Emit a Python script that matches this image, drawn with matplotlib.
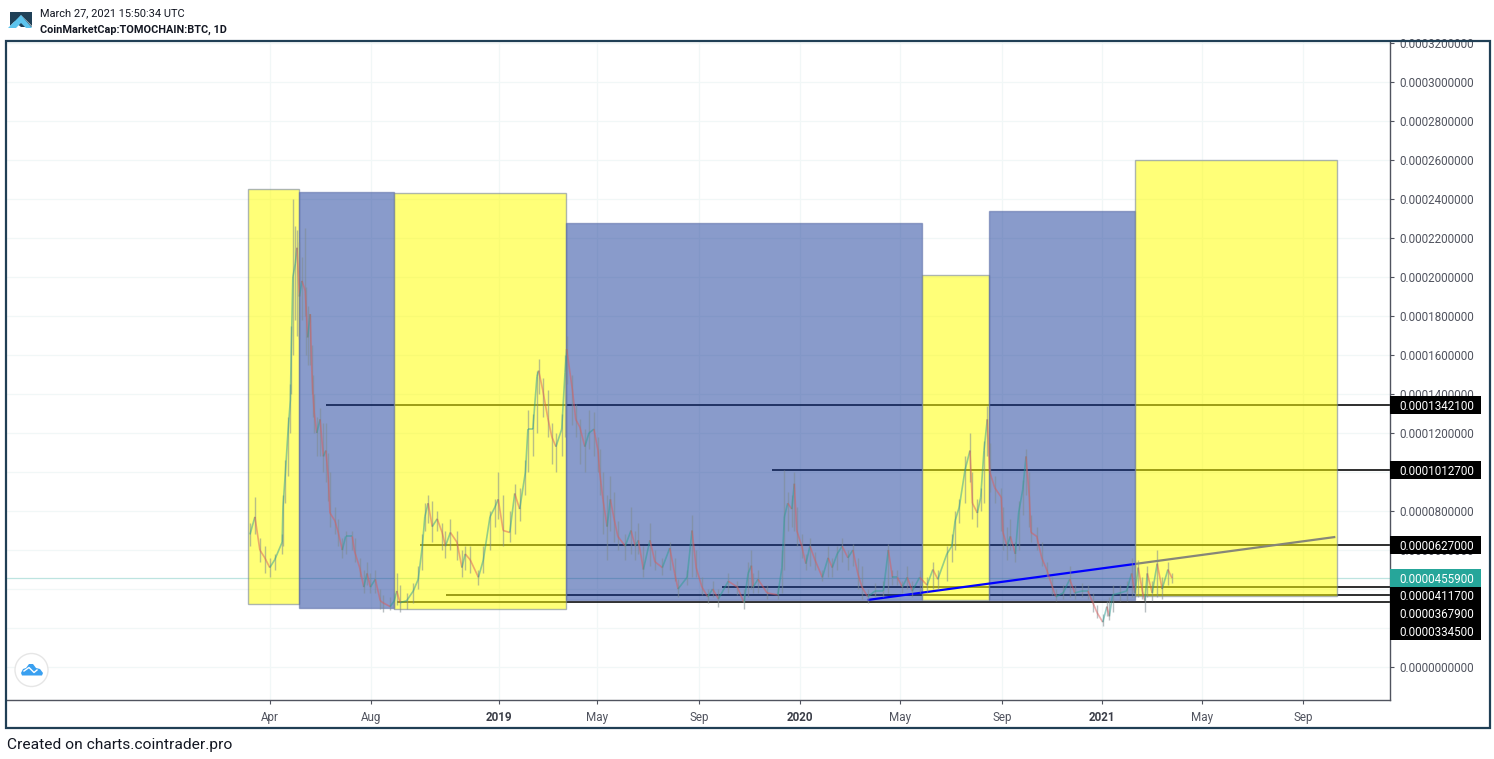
import matplotlib
matplotlib.use("Agg")
import matplotlib.pyplot as plt
from matplotlib.patches import Rectangle, Polygon, Circle
from matplotlib.collections import LineCollection

W, H = 1494, 759
FONT = "Roboto"
plt.rcParams["font.family"] = [FONT, "DejaVu Sans"]

# x values: days since 2019-01-01; prices: 1e-6 BTC
days = [-302,-296,-290,-284,-278,-272,-263,-262,-259,-256,
        -253,-252,-250,-247,-245,-242,-239,-235,-234,-232,
        -229,-227,-226,-224,-221,-217,-213,-210,-207,-205,
        -199,-195,-190,-186,-178,-175,-169,-164,-160,-156,
        -150,-144,-141,-132,-127,-124,-120,-112,-104,-98,
        -93,-90,-86,-81,-75,-69,-65,-59,-51,-45,
        -41,-35,-25,-19,-11,-5,-1,5,13,19,
        25,32,35,41,46,48,53,59,64,69,
        76,80,82,89,93,98,104,109,115,120,
        122,126,131,135,139,144,153,160,165,169,
        175,183,189,198,207,213,217,228,234,239,
        246,253,259,266,278,289,297,302,306,308,
        314,325,338,343,346,350,355,358,361,367,
        372,377,383,392,399,404,410,416,423,429,
        435,440,447,456,466,472,477,483,489,495,
        501,510,519,526,532,543,549,553,558,565,
        571,574,580,584,588,592,595,601,609,611,
        616,620,626,630,635,639,643,645,652,658,
        664,671,675,684,692,698,707,714,720,725,
        732,737,740,744,753,761,767,771,775,780,
        783,786,792,798,804,811,816]
close = [68,77,60,56,51,55,64,82,100,120,
         137,161,200,207,215,190,198,193,185,169,
         181,152,142,130,120,127,108,111,97,79,
         75,69,60,67,67,59,51,41,48,41,
         45,34,33,31,34,39,33,34,39,45,
         62,77,84,72,76,69,62,69,64,51,
         58,55,46,55,77,82,86,70,69,89,
         81,100,122,122,149,152,142,128,118,113,
         122,151,163,142,127,123,113,120,122,111,
         100,86,72,86,77,67,62,70,62,65,
         50,65,54,51,61,48,40,46,70,51,
         41,36,40,35,44,41,33,48,52,41,
         45,38,37,51,77,84,81,94,70,62,
         53,62,55,46,56,51,58,62,56,60,
         48,41,36,39,39,60,46,46,41,46,
         39,46,42,50,45,58,62,75,82,101,
         111,84,79,87,111,127,100,92,87,69,
         62,67,58,79,91,108,87,69,67,56,
         50,41,36,38,45,38,39,39,33,28,
         23,31,26,37,38,39,48,38,51,39,
         34,48,38,53,40,50,45.59]
high = [74,87,66,62,56,58,68,88,106,128,
        145,175,240,226,224,218,210,225,195,185,
        181,165,150,140,128,133,125,125,110,100,
        82,76,66,70,70,66,56,50,54,48,
        50,40,37,36,38,48,42,38,43,52,
        68,84,88,85,80,74,70,76,70,60,
        62,62,50,62,80,86,100,88,80,94,
        92,106,132,130,152,158,148,142,125,120,
        130,160,170,150,135,127,122,132,131,118,
        112,100,88,98,90,75,68,82,70,74,
        62,74,60,56,64,56,45,50,78,60,
        46,40,44,40,48,44,40,54,60,48,
        50,42,41,60,101,90,88,100,82,68,
        58,66,59,50,62,56,62,66,60,63,
        56,52,40,43,44,63,50,50,44,52,
        44,50,46,54,50,62,68,80,86,108,
        120,100,86,92,116,134,115,98,92,82,
        72,76,64,85,96,112,100,78,72,64,
        54,46,40,42,52,42,43,42,38,32,
        27,34,36,42,42,44,56,55,55,46,
        37,52,44,60,46,54,48]
low = [62,68,54,48,46,50,58,62,84,98,
       120,140,160,178,170,168,178,180,160,155,
       155,140,128,120,108,108,100,95,85,72,
       68,62,56,58,60,54,46,38,42,38,
       38,30,28,29,30,32,28,30,33,40,
       50,70,74,64,70,60,56,60,55,46,
       50,48,42,48,60,72,76,62,64,68,
       75,88,100,108,120,140,128,118,104,100,
       108,118,145,124,118,104,100,112,108,100,
       88,68,55,70,64,60,55,58,55,58,
       46,52,50,47,50,44,36,42,46,46,
       37,33,36,31,38,37,30,36,40,38,
       38,35,35,38,50,70,72,70,62,56,
       50,52,50,44,46,46,50,54,50,52,
       40,35,33,36,36,38,42,42,38,40,
       36,38,38,40,40,44,54,60,74,84,
       95,76,72,80,84,108,90,84,70,60,
       55,60,54,60,78,88,72,64,60,52,
       46,37,34,35,36,35,36,35,28,25,
       21,26,24,28,34,34,36,36,36,35,
       28,36,34,36,35,42,43]

# Shaded cycle boxes
box_start = [-304, -243, -127, 81, 513, 594, 771]
box_end = [-243, -127, 81, 513, 594, 771, 1016]
box_top = [245, 243.6, 243, 227.7, 201, 233.8, 260]
box_bottom = [32.3, 30.3, 29.7, 34.4, 34.4, 34.4, 36.4]
box_kind = ["y", "b", "y", "b", "y", "b", "y"]

# Horizontal levels
level_values = [134.21, 101.27, 62.70, 41.17, 36.79, 33.45]
level_start = [-210, 331, -96, 270, -64, -124]
level_text = ["0.0001342100", "0.0001012700", "0.0000627000",
              "0.0000411700", "0.0000367900", "0.0000334500"]
level_shift = [0, 0, 0, 8, 18, 29]

last_price = 45.59
last_text = "0.0000455900"

trend_days = [447, 1014]
trend_values = [34.4, 66.7]

y_ticks = list(range(0, 321, 20))
x_ticks = [-278, -155, 0, 119, 243, 365, 486, 610, 731, 852, 975]
x_labels = ["Apr", "Aug", "2019", "May", "Sep", "2020", "May", "Sep", "2021", "May", "Sep"]

AX = "#50535e"
fig = plt.figure(figsize=(W / 100, H / 100), dpi=100, facecolor="white")
ax = fig.add_axes([7 / W, 1 - 700 / H, (1390 - 7) / W, (700 - 42) / H])
ax.set_xlim(-596.6, 1080.3)
ax.set_ylim(-16.9, 320.5)
ax.set_facecolor("white")

for s in ("top", "left"):
    ax.spines[s].set_visible(False)
for s in ("bottom", "right"):
    ax.spines[s].set_color(AX)
    ax.spines[s].set_linewidth(1.0)

ax.yaxis.tick_right()
ax.set_yticks(y_ticks)
ax.set_yticklabels([f"{v * 1e-6:.10f}" for v in y_ticks], fontsize=8.4, color=AX)
ax.set_xticks(x_ticks)
ax.set_xticklabels(x_labels, fontsize=8.4, color=AX)
for lab in ax.get_xticklabels():
    if lab.get_text().startswith("20"):
        lab.set_fontweight("bold")
        lab.set_color("#3b3e48")
ax.tick_params(axis="y", length=3, width=0.8, color=AX, pad=3.6)
ax.tick_params(axis="x", length=3, width=0.8, color=AX, pad=5)
ax.grid(True, color="#f1f7f7", lw=0.9, zorder=0)
ax.set_axisbelow(True)

ax.axhline(last_price, color="#26a69a", alpha=0.3, lw=0.9, zorder=1)

for v, s in zip(level_values, level_start):
    ax.plot([s, 1080.3], [v, v], color="black", lw=1.15, zorder=1.5, solid_capstyle="butt")

colors = {"y": (1, 1, 0, 0.53), "b": (21 / 255, 56 / 255, 153 / 255, 0.5)}
edges = {"y": (0.42, 0.48, 0.62, 0.55), "b": (0.35, 0.42, 0.65, 0.55)}
for i, (a, b, t, bo, k) in enumerate(zip(box_start, box_end, box_top, box_bottom, box_kind)):
    z = 5 if i == len(box_start) - 1 else 3
    ax.add_patch(Rectangle((a, bo), b - a, t - bo, facecolor=colors[k], edgecolor=edges[k],
                           lw=1.0, zorder=z))

ax.plot(trend_days, trend_values, color="#0000ff", lw=1.6, zorder=4, solid_capstyle="butt")

# candles
wicks, bodies, body_c = [], [], []
UP, DOWN = "#2a9d94", "#dd5a5a"
for i, d in enumerate(days):
    prev = close[i - 1] if i else close[0]
    col = UP if close[i] >= prev else DOWN
    wicks.append([(d, low[i]), (d, high[i])])
    x0 = days[i - 1] if i else d
    bodies.append([(x0, prev), (d, close[i])])
    body_c.append(col)
ax.add_collection(LineCollection(wicks, colors="#7f8c90", linewidths=1.0, alpha=0.55, zorder=6))
ax.add_collection(LineCollection(bodies, colors=body_c, linewidths=1.2, alpha=0.5, zorder=6))

# overlay in picture coordinates: frame, header, footer, logos, price tags
ov = fig.add_axes([0, 0, 1, 1], zorder=30)
ov.set_xlim(0, W)
ov.set_ylim(H, 0)
ov.axis("off")
ov.patch.set_alpha(0)

def tag(value, text, shift, bg):
    yc = H - ax.transData.transform((0, value))[1] + shift
    ov.add_patch(Rectangle((1390, yc - 9), 91, 18, facecolor=bg, edgecolor="none"))
    ov.text(1399, yc, text, fontsize=8.4, color="white", ha="left", va="center_baseline")

for v, t, sh in zip(level_values, level_text, level_shift):
    tag(v, t, sh, "black")
tag(last_price, last_text, 0, "#26a69a")

ov.add_patch(Rectangle((6, 41), 1484, 687, fill=False, edgecolor="#203f55", lw=1.6))
ov.text(40, 13, "March 27, 2021 15:50:34 UTC", fontsize=7.9, color="#131722", va="center")
ov.text(40, 30, "CoinMarketCap:TOMOCHAIN:BTC, 1D", fontsize=7.8, color="#131722",
        fontweight="bold", va="center")
ov.text(7, 745, "Created on charts.cointrader.pro", fontsize=11.15, color="#131722", va="center")

ov.add_patch(Polygon([(10, 12), (32, 12), (32, 26), (21, 15), (10, 26)], color="#1f4057", lw=0))
ov.add_patch(Polygon([(21, 15), (32, 27), (21, 27), (14, 21)], color="#1f4057", lw=0))
ov.add_patch(Polygon([(8, 28), (21, 15), (32, 28), (26, 28), (21, 23), (16, 28)], color="#5cc4ee", lw=0))
ov.add_patch(Circle((31.5, 670), 16.5, facecolor="white", edgecolor="#e6e6e6", lw=1))
ov.add_patch(Polygon([(21, 673), (23, 669), (26, 668), (29, 664), (33, 664), (36, 668),
                      (40, 669), (43, 673), (42, 675.5), (22, 675.5)], color="#3aa0f0", lw=0))
ov.plot([24, 29, 34, 37], [671, 667.5, 672.5, 670], color="white", lw=1.0)

fig.savefig("out.png", dpi=100, facecolor="white")
